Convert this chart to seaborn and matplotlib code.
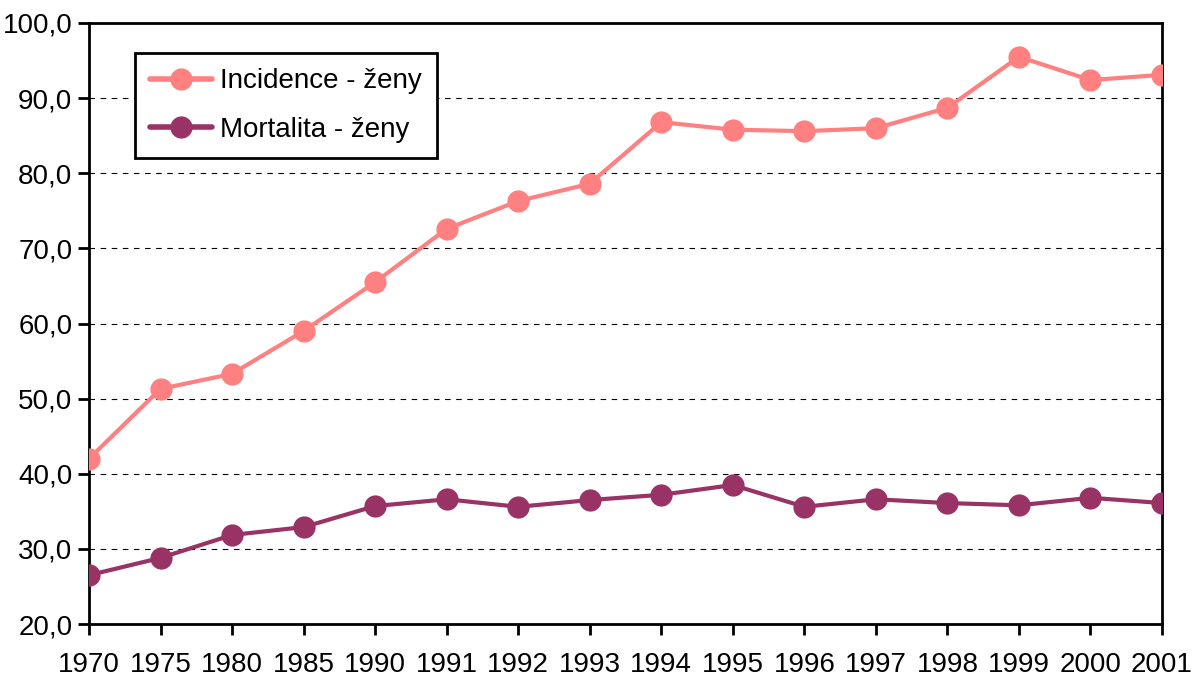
import matplotlib
matplotlib.use("Agg")
import matplotlib.pyplot as plt
import seaborn as sns
import pandas as pd
from matplotlib import font_manager

years = ["1970", "1975", "1980", "1985", "1990", "1991", "1992", "1993",
         "1994", "1995", "1996", "1997", "1998", "1999", "2000", "2001"]
incidence = [42.0, 51.3, 53.3, 59.0, 65.5, 72.6, 76.3, 78.6,
             86.8, 85.8, 85.6, 86.0, 88.7, 95.5, 92.4, 93.1]
mortalita = [26.5, 28.8, 31.85, 32.9, 35.7, 36.6, 35.6, 36.5,
             37.2, 38.5, 35.6, 36.6, 36.1, 35.8, 36.8, 36.1]
series_names = ["Incidence - ženy", "Mortalita - ženy"]
colors = ["#FF8080", "#993366"]
yticks = [20, 30, 40, 50, 60, 70, 80, 90, 100]

sns.set_theme(style="white")
avail = {f.name for f in font_manager.fontManager.ttflist}
fam = ["Liberation Sans Narrow"] if "Liberation Sans Narrow" in avail else ["Liberation Sans"]
plt.rcParams["font.family"] = fam + ["DejaVu Sans"]
plt.rcParams["text.color"] = "black"
plt.rcParams["axes.labelcolor"] = "black"
plt.rcParams["xtick.color"] = "black"
plt.rcParams["ytick.color"] = "black"

rows = []
for i, y in enumerate(years):
    rows.append({"pos": i, "value": incidence[i], "series": series_names[0]})
    rows.append({"pos": i, "value": mortalita[i], "series": series_names[1]})
df = pd.DataFrame(rows)

fig = plt.figure(figsize=(11.94, 6.84), dpi=100)
ax = fig.add_axes([89/1194, 1-624/684, (1162-89)/1194, (624-23)/684])

sns.lineplot(data=df, x="pos", y="value", hue="series", hue_order=series_names,
             palette=colors, marker="o", markersize=16, markeredgewidth=0,
             linewidth=3, ax=ax, zorder=3)

ax.set_xlim(0, len(years) - 1)
ax.set_ylim(20, 100)
ax.set_xticks(range(len(years)))
ax.set_xticklabels(years)
ax.set_yticks(yticks)
ax.set_yticklabels([f"{v:.1f}".replace(".", ",") for v in yticks])
ax.set_xlabel("")
ax.set_ylabel("")

for v in yticks[1:-1]:
    ax.axhline(v, color="black", linestyle=(0, (5, 5)), linewidth=0.8, zorder=1)

for s in ax.spines.values():
    s.set_visible(True)
    s.set_color("black")
    s.set_linewidth(2)

ax.tick_params(axis="both", which="major", direction="out", length=8, width=2,
               color="black", labelsize=20, labelcolor="black",
               bottom=True, left=True)
ax.tick_params(axis="x", pad=12)
ax.tick_params(axis="y", pad=4)
for lab in ax.get_xticklabels() + ax.get_yticklabels():
    lab.set_clip_on(False)

leg = ax.legend(loc="upper left", bbox_to_anchor=(0.043, 0.95), borderaxespad=0,
                frameon=True, fancybox=False, fontsize=20, handlelength=2.2,
                borderpad=0.55, labelspacing=0.8, handletextpad=0.3,
                labelcolor="black")
leg.get_frame().set_edgecolor("black")
leg.get_frame().set_linewidth(2)
leg.get_frame().set_alpha(1)
for line in leg.get_lines():
    line.set_linewidth(4)
    line.set_markersize(16)

fig.savefig("out.png", dpi=100)
